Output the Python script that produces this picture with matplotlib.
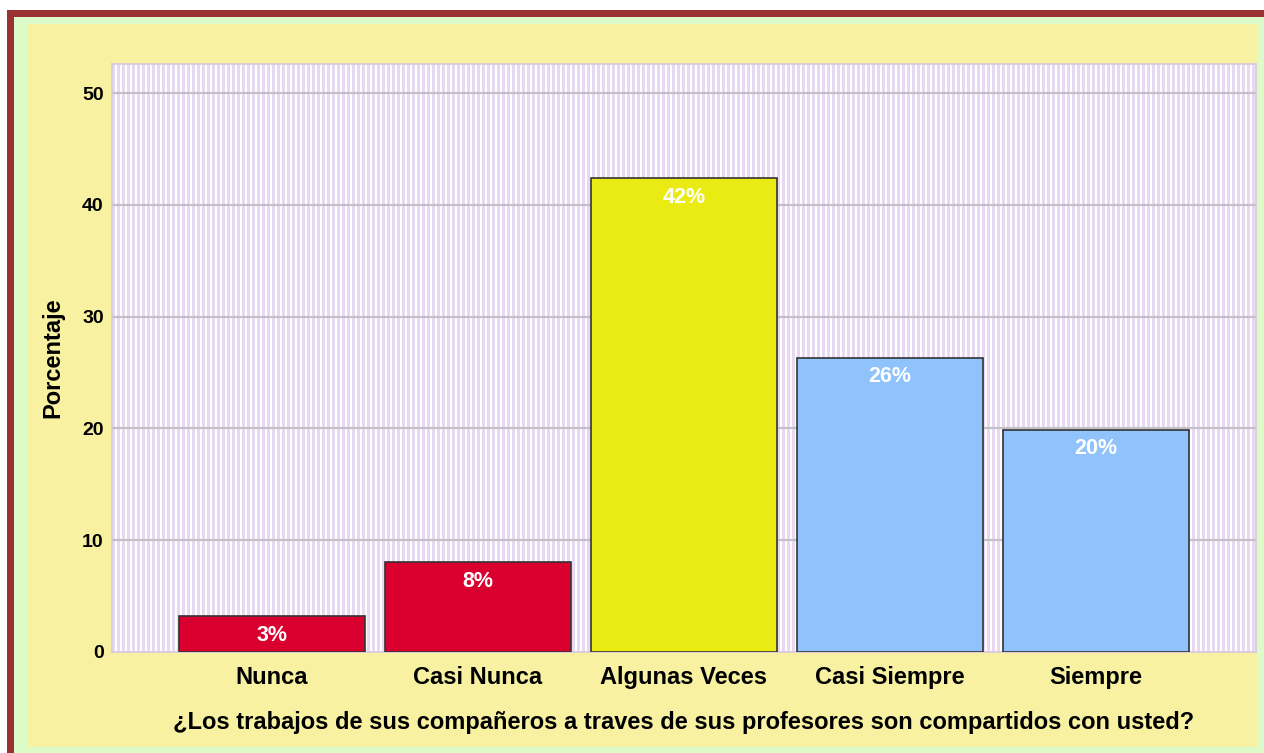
import numpy as np
import matplotlib.pyplot as plt
from matplotlib.patches import Rectangle

# data
categories = ['Nunca', 'Casi Nunca', 'Algunas Veces', 'Casi Siempre', 'Siempre']
percentages = [3.2, 8.05, 42.4, 26.3, 19.9]
bar_labels = ['3%', '8%', '42%', '26%', '20%']
bar_colors = ['#d90030', '#d90030', '#ebeb14', '#90c2fb', '#90c2fb']
yticks = [0, 10, 20, 30, 40, 50]

plt.rcParams['font.family'] = ['Liberation Sans', 'DejaVu Sans']

W, H = 1264, 753
fig = plt.figure(figsize=(W / 100, H / 100), dpi=100)
fig.patch.set_facecolor('white')


def px_rect(x0, y0, x1, y1, color, z=0):
    # rectangle in figure pixel coords (top-left origin)
    fig.patches.append(Rectangle((x0 / W, 1 - y1 / H), (x1 - x0) / W, (y1 - y0) / H,
                                 transform=fig.transFigure, facecolor=color,
                                 edgecolor='none', zorder=z))


# frame: dark red border, light green band, yellow panel
px_rect(7, 10, W, H, '#993333', 0)
px_rect(14, 17, W, H, '#ddfbc8', 1)
px_rect(27, 24, 1257, 747, '#f7f1a1', 2)

ax = fig.add_axes([112 / W, 1 - 652 / H, (1256 - 112) / W, (652 - 64) / H])
ax.set_zorder(5)
ax.set_facecolor('white')

# vertical lavender stripes as background, one column per pixel
n_px = 1256 - 112
pattern = np.ones((1, n_px, 3))
for i in range(n_px):
    if i % 5 < 3:
        pattern[0, i] = (0.91, 0.85, 0.95)
ax.imshow(pattern, extent=[0, 1, 0, 1], transform=ax.transAxes, aspect='auto',
          interpolation='nearest', zorder=0)

x = np.arange(len(categories))
ax.set_xlim(-0.777, len(categories) - 1 + 0.777)
ax.set_ylim(0, 52.6)

for y in yticks[1:]:
    ax.axhline(y, color='#c4c0c8', linewidth=1.6, zorder=1)

bars = ax.bar(x, percentages, width=0.9, color=bar_colors, edgecolor='#333333',
              linewidth=1.2, zorder=3)

for xi, h, lab in zip(x, percentages, bar_labels):
    ax.annotate(lab, (xi, h), xytext=(0, -19), textcoords='offset pixels',
                ha='center', va='center', color='white', fontsize=15.5,
                fontweight='bold', zorder=4)

ax.set_xticks(x)
ax.set_xticklabels(categories, fontsize=17, fontweight='bold')
ax.set_yticks(yticks)
ax.set_yticklabels([str(t) for t in yticks], fontsize=14, fontweight='bold')
ax.tick_params(axis='x', length=0, pad=10)
ax.tick_params(axis='y', length=0, pad=6)

for s in ax.spines.values():
    s.set_color('#d8c8e0')
    s.set_linewidth(1.2)

ax.set_ylabel('Porcentaje', fontsize=17, fontweight='bold', labelpad=13)
ax.set_xlabel('¿Los trabajos de sus compañeros a traves de sus profesores son compartidos con usted?',
              fontsize=17, fontweight='bold', labelpad=16)

fig.savefig('out.png', dpi=100)
